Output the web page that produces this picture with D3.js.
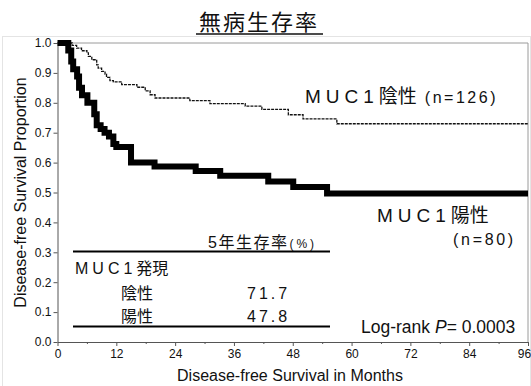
<!DOCTYPE html>
<html>
<head>
<meta charset="utf-8">
<script src="https://cdn.jsdelivr.net/npm/d3@7"></script>
<style>
  body { margin: 0; background: #fff; }
  svg { display: block; font-family: "Liberation Sans", Arial, "Noto Sans CJK JP", sans-serif; }
</style>
</head>
<body>
<div id="chart"></div>
<script>
const width = 531, height = 386;
const margin = { top: 43, right: 3, bottom: 44, left: 57.5 };

// MUC1 negative (n=126), thin dashed
const negMonths = [0, 3.0, 3.9, 4.9, 6.0, 6.3, 7.0, 8.0, 8.3, 9.0, 9.7, 10.0, 10.7, 11.4, 13.1, 16.2, 17.9, 18.9, 19.9, 27.0, 31.1, 38.3, 41.7, 47.1, 50.1, 57.0];
const negSurv   = [1.0, 0.992, 0.983, 0.974, 0.967, 0.955, 0.944, 0.927, 0.916, 0.905, 0.896, 0.885, 0.874, 0.870, 0.861, 0.852, 0.840, 0.827, 0.816, 0.807, 0.797, 0.789, 0.778, 0.760, 0.746, 0.730];

// MUC1 positive (n=80), thick
const posMonths = [0, 2.2, 2.8, 3.2, 4.0, 4.4, 5.0, 6.1, 7.5, 8.0, 8.8, 9.6, 10.5, 11.4, 12.0, 15.0, 19.8, 28.2, 33.2, 43.0, 48.1, 55.0];
const posSurv   = [1.0, 0.975, 0.938, 0.912, 0.888, 0.85, 0.825, 0.80, 0.762, 0.725, 0.712, 0.70, 0.687, 0.662, 0.652, 0.600, 0.587, 0.572, 0.556, 0.537, 0.518, 0.497];

const endMonth = 96;
const xTicks = [0, 12, 24, 36, 48, 60, 72, 84, 96];
const xMinorTicks = [6, 18, 30, 42, 54, 66, 78, 90];
const yTicks = [0, 0.1, 0.2, 0.3, 0.4, 0.5, 0.6, 0.7, 0.8, 0.9, 1.0];

const tableHeader = "5年生存率";
const tableGroup = "MUC1";
const tableGroupSuffix = "発現";
const tableLabels = ["陰性", "陽性"];
const tableValues = ["71.7", "47.8"];

const x = d3.scaleLinear().domain([0, 96]).range([margin.left, width - margin.right]);
const y = d3.scaleLinear().domain([0, 1]).range([height - margin.bottom, margin.top]);

const svg = d3.select('#chart').append('svg')
  .attr('width', width)
  .attr('height', height);

// faint outer frame
svg.append('rect')
  .attr('x', 2.5).attr('y', 36.5)
  .attr('width', width - 3).attr('height', height - 36)
  .attr('fill', 'none').attr('stroke', '#e4e4e4');

// title
svg.append('text')
  .attr('x', 259).attr('y', 30)
  .attr('text-anchor', 'middle')
  .attr('font-size', 22)
  .attr('letter-spacing', 2)
  .attr('fill', '#111')
  .text('無病生存率');
svg.append('line')
  .attr('x1', 196).attr('x2', 323)
  .attr('y1', 34).attr('y2', 34)
  .attr('stroke', '#111').attr('stroke-width', 1.5);

// plot frame (top/right)
svg.append('path')
  .attr('d', `M${x(0)},${y(1)}H${x(96)}V${y(0)}`)
  .attr('fill', 'none').attr('stroke', '#9a9a9a').attr('stroke-width', 1);

// axes
const xAxis = svg.append('g')
  .attr('transform', `translate(0,${y(0)})`)
  .call(d3.axisBottom(x).tickValues(xTicks).tickSize(4).tickSizeOuter(0).tickPadding(3));
svg.append('g')
  .attr('transform', `translate(0,${y(0)})`)
  .call(d3.axisBottom(x).tickValues(xMinorTicks).tickSize(2).tickFormat(''))
  .call(g => g.select('.domain').remove());
const yAxis = svg.append('g')
  .attr('transform', `translate(${x(0)},0)`)
  .call(d3.axisLeft(y).tickValues(yTicks).tickSize(4).tickSizeOuter(0).tickPadding(2)
    .tickFormat(d3.format('.1f')));

[xAxis, yAxis].forEach(g => {
  g.selectAll('path, line').attr('stroke', '#555');
  g.selectAll('text').attr('font-size', 12).attr('fill', '#111')
    .attr('font-family', '"Liberation Sans", Arial, sans-serif');
});
svg.selectAll('g line').attr('stroke', '#555');
// last label sits against the page edge
xAxis.selectAll('.tick text').filter(d => d === 96).attr('dx', -4);

// axis titles
svg.append('text')
  .attr('transform', `translate(26,${(y(0) + y(1)) / 2}) rotate(-90)`)
  .attr('text-anchor', 'middle')
  .attr('font-size', 16)
  .attr('fill', '#111')
  .text('Disease-free Survival Proportion');
svg.append('text')
  .attr('x', 290).attr('y', 381)
  .attr('text-anchor', 'middle')
  .attr('font-size', 16)
  .attr('fill', '#111')
  .text('Disease-free Survival in Months');

// curves
const line = d3.line()
  .x(d => x(d[0]))
  .y(d => y(d[1]))
  .curve(d3.curveStepAfter);

const negData = negMonths.map((m, i) => [m, negSurv[i]]).concat([[endMonth, negSurv[negSurv.length - 1]]]);
const posData = posMonths.map((m, i) => [m, posSurv[i]]).concat([[endMonth, posSurv[posSurv.length - 1]]]);

svg.append('path')
  .datum(negData)
  .attr('d', line)
  .attr('fill', 'none')
  .attr('stroke', '#111')
  .attr('stroke-width', 1.3)
  .attr('stroke-dasharray', '3,1');

svg.append('path')
  .datum(posData)
  .attr('d', line)
  .attr('fill', 'none')
  .attr('stroke', '#000')
  .attr('stroke-width', 6)
  .attr('stroke-linejoin', 'miter')
  .attr('stroke-linecap', 'butt');

// group labels
const negLabel = svg.append('text').attr('x', 305).attr('y', 103).attr('fill', '#111');
negLabel.append('tspan').attr('font-size', 19).attr('letter-spacing', 5).text('MUC1');
negLabel.append('tspan').attr('font-size', 19).text('陰性');
negLabel.append('tspan').attr('font-size', 16).attr('letter-spacing', 2.5).attr('dx', 8).text('(n=126)');

const posLabel = svg.append('text').attr('x', 377).attr('y', 222).attr('fill', '#111');
posLabel.append('tspan').attr('font-size', 19).attr('letter-spacing', 5).text('MUC1');
posLabel.append('tspan').attr('font-size', 19).text('陽性');
svg.append('text')
  .attr('x', 453).attr('y', 245)
  .attr('font-size', 16).attr('letter-spacing', 2.7)
  .attr('fill', '#111')
  .text('(n=80)');

// table
const tableLeft = 73, tableRight = 330;
const head = svg.append('text').attr('x', 208).attr('y', 248).attr('fill', '#111');
head.append('tspan').attr('font-size', 16).attr('letter-spacing', 1.5).text(tableHeader);
head.append('tspan').attr('font-size', 12).attr('letter-spacing', 3).attr('dx', 1).text('(%)');

svg.append('line')
  .attr('x1', tableLeft).attr('x2', tableRight)
  .attr('y1', 251.5).attr('y2', 251.5)
  .attr('stroke', '#000').attr('stroke-width', 1.8);

const grp = svg.append('text').attr('x', 75).attr('y', 274).attr('font-size', 16).attr('fill', '#111');
grp.append('tspan').attr('letter-spacing', 4).text(tableGroup);
grp.append('tspan').text(tableGroupSuffix);

tableLabels.forEach((lab, i) => {
  const yy = 299 + i * 23;
  svg.append('text')
    .attr('x', 121).attr('y', yy)
    .attr('font-size', 16)
    .attr('fill', '#111')
    .text(lab);
  svg.append('text')
    .attr('x', 247).attr('y', yy)
    .attr('font-size', 16).attr('letter-spacing', 3)
    .attr('fill', '#111')
    .text(tableValues[i]);
});

svg.append('line')
  .attr('x1', tableLeft).attr('x2', tableRight)
  .attr('y1', 326.5).attr('y2', 326.5)
  .attr('stroke', '#000').attr('stroke-width', 1.8);

// log-rank
const lr = svg.append('text')
  .attr('x', 361).attr('y', 333)
  .attr('font-size', 17.5)
  .attr('fill', '#111');
lr.append('tspan').text('Log-rank ');
lr.append('tspan').attr('font-style', 'italic').text('P');
lr.append('tspan').text('= 0.0003');
</script>
</body>
</html>
